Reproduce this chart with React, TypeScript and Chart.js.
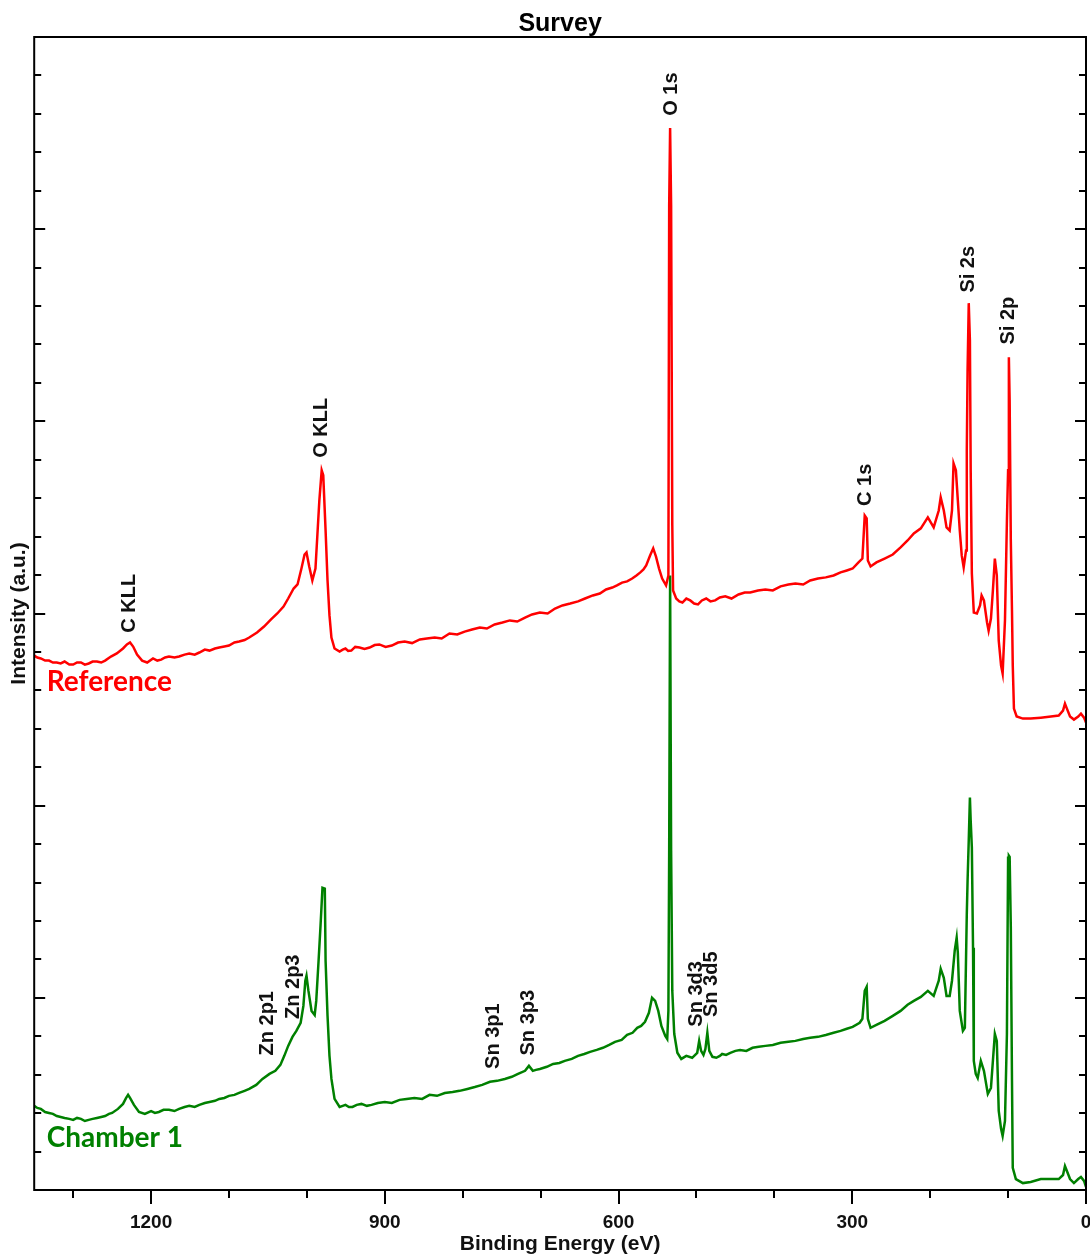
import React, { useEffect, useRef } from "react";
import { Chart, registerables } from "chart.js";
Chart.register(...registerables);

// Reference spectrum (red): [binding energy (eV), intensity (a.u.)]
const referenceSpectrum: [number, number][] = [
  [1350, 2.781], [1346, 2.771], [1341.5, 2.766], [1336, 2.755], [1331, 2.755], [1326, 2.745], [1321, 2.745], [1316, 2.74], [1311, 2.75], [1305, 2.734],
  [1300, 2.734], [1295, 2.745], [1290, 2.745], [1285, 2.734], [1280, 2.74], [1275, 2.75], [1269.5, 2.75], [1264, 2.745], [1259, 2.755], [1251.5, 2.776],
  [1244, 2.792], [1236, 2.818], [1231, 2.839], [1227, 2.849], [1223, 2.828], [1218, 2.786], [1211.5, 2.755], [1205, 2.745], [1197.5, 2.766], [1192, 2.755],
  [1187, 2.76], [1182, 2.771], [1177, 2.776], [1170, 2.771], [1164, 2.776], [1157, 2.786], [1151, 2.792], [1144, 2.786], [1138, 2.797], [1131, 2.812],
  [1125, 2.807], [1118, 2.818], [1112.5, 2.823], [1106, 2.828], [1100, 2.833], [1093, 2.849], [1087, 2.854], [1080, 2.862], [1074, 2.875], [1064, 2.901],
  [1055, 2.932], [1046, 2.969], [1038, 3.0], [1030, 3.036], [1024, 3.078], [1017, 3.13], [1012, 3.151], [1007, 3.234], [1003, 3.307], [1000.5, 3.318],
  [997, 3.245], [993, 3.172], [989, 3.234], [986.5, 3.411], [984, 3.589], [981, 3.745], [979, 3.719], [976, 3.432], [973.5, 3.172], [971, 2.99],
  [968.5, 2.875], [964.5, 2.818], [958, 2.802], [954, 2.812], [950.5, 2.818], [947, 2.805], [943, 2.807], [938, 2.826], [932.5, 2.823], [926, 2.815],
  [919.5, 2.823], [913, 2.836], [907, 2.839], [899, 2.826], [891, 2.833], [883, 2.849], [874.5, 2.854], [865, 2.846], [855, 2.865], [846, 2.87],
  [836, 2.875], [827, 2.87], [817, 2.896], [807, 2.891], [797.5, 2.906], [788, 2.917], [778, 2.927], [769, 2.922], [759, 2.943], [749, 2.953],
  [739.5, 2.964], [730, 2.958], [720, 2.979], [711, 2.995], [701, 3.005], [691, 3.0], [681.5, 3.026], [672, 3.042], [662, 3.052], [652, 3.063],
  [643, 3.078], [633, 3.094], [624, 3.104], [616, 3.125], [608, 3.135], [602, 3.146], [595.5, 3.161], [589, 3.167], [582.5, 3.182], [577, 3.198],
  [572, 3.214], [568, 3.229], [564.5, 3.25], [559.5, 3.302], [555.5, 3.339], [552, 3.297], [548, 3.234], [544, 3.182], [539, 3.146], [536, 3.198],
  [535, 5.125], [533.8, 5.526], [532.5, 5.125], [531, 3.458], [530, 3.12], [526, 3.078], [522, 3.063], [518, 3.057], [513, 3.078], [508, 3.068],
  [503, 3.052], [498, 3.047], [493, 3.068], [487.5, 3.078], [482, 3.063], [476, 3.068], [470, 3.083], [463, 3.089], [455, 3.078], [446, 3.099],
  [438, 3.109], [431, 3.109], [421, 3.12], [411.5, 3.125], [402, 3.12], [392, 3.141], [382, 3.151], [373, 3.156], [363, 3.151], [354, 3.172],
  [344, 3.182], [334, 3.188], [324, 3.198], [315, 3.214], [307, 3.224], [299.5, 3.234], [292, 3.266], [287, 3.286], [284, 3.51], [281.5, 3.495],
  [280, 3.276], [276.5, 3.245], [269, 3.266], [258.5, 3.286], [248, 3.307], [238, 3.344], [229, 3.38], [221, 3.417], [212, 3.443], [203, 3.5],
  [195.5, 3.448], [189, 3.536], [186.5, 3.604], [182.5, 3.536], [179, 3.448], [175, 3.432], [172, 3.536], [170, 3.781], [167, 3.745], [164.5, 3.589],
  [162, 3.432], [159.5, 3.302], [157, 3.24], [154, 3.328], [153, 3.849], [152, 4.266], [150.5, 4.615], [149, 4.422], [148, 3.745], [146.5, 3.208],
  [144, 3.005], [140, 3.0], [136, 3.042], [134, 3.094], [131, 3.068], [127, 2.953], [125, 2.911], [122, 2.974], [119.5, 3.12], [117, 3.286],
  [114.5, 3.198], [112, 2.859], [109, 2.729], [107, 2.688], [104, 2.964], [101.5, 3.484], [100, 3.745], [99, 4.333], [98, 4.109], [96.5, 3.38],
  [95, 3.016], [94, 2.729], [92.5, 2.505], [89, 2.464], [81, 2.453], [71, 2.453], [58, 2.458], [45, 2.464], [35, 2.469], [29.5, 2.495],
  [27, 2.531], [24.5, 2.505], [20.5, 2.464], [15.5, 2.448], [10, 2.464], [6.5, 2.479], [2.5, 2.458], [0, 2.432],
];

// Chamber 1 spectrum (green): [binding energy (eV), intensity (a.u.)]
const chamber1Spectrum: [number, number][] = [
  [1350, 0.438], [1346, 0.427], [1341.5, 0.422], [1336, 0.406], [1331, 0.401], [1326, 0.396], [1321, 0.385], [1316, 0.38], [1311, 0.375], [1305, 0.37],
  [1300, 0.365], [1295, 0.375], [1290, 0.37], [1285, 0.359], [1280, 0.365], [1275, 0.37], [1269.5, 0.375], [1264, 0.38], [1259, 0.385], [1254, 0.396],
  [1250, 0.401], [1242.5, 0.422], [1236, 0.448], [1232, 0.479], [1229.5, 0.495], [1227, 0.479], [1222, 0.443], [1215.5, 0.406], [1208, 0.396], [1200, 0.411],
  [1195, 0.401], [1190, 0.406], [1184, 0.417], [1177, 0.417], [1170, 0.411], [1164, 0.422], [1157, 0.432], [1151, 0.438], [1144, 0.432], [1138, 0.443],
  [1131, 0.453], [1125, 0.458], [1118, 0.464], [1112.5, 0.474], [1106, 0.479], [1100, 0.49], [1093, 0.495], [1087, 0.505], [1080, 0.516], [1074, 0.526],
  [1065, 0.547], [1057, 0.578], [1048, 0.604], [1040.5, 0.62], [1034, 0.651], [1029, 0.698], [1024, 0.75], [1018.5, 0.797], [1013.5, 0.828], [1008, 0.87],
  [1004.5, 0.958], [1002, 1.089], [1000.5, 1.115], [998, 1.036], [994, 0.932], [990, 0.911], [988, 0.984], [985, 1.193], [982.5, 1.375], [980, 1.573],
  [977, 1.568], [976, 1.193], [973.5, 0.906], [971, 0.698], [968.5, 0.578], [964.5, 0.474], [958, 0.432], [954, 0.438], [950.5, 0.443], [946, 0.432],
  [941.5, 0.432], [936, 0.443], [930, 0.448], [923, 0.438], [917, 0.443], [909, 0.453], [900, 0.458], [891, 0.453], [881, 0.469], [872, 0.474],
  [862, 0.479], [852, 0.474], [842.5, 0.495], [833, 0.49], [823, 0.505], [813, 0.51], [804, 0.516], [794, 0.526], [784.5, 0.536], [775, 0.547],
  [765, 0.563], [756, 0.568], [746, 0.578], [737, 0.589], [729, 0.604], [720, 0.62], [715, 0.646], [710, 0.62], [706, 0.625], [701, 0.63],
  [692, 0.641], [684, 0.656], [676, 0.661], [669, 0.672], [660, 0.682], [652, 0.698], [644, 0.708], [636.5, 0.719], [628, 0.729], [620, 0.74],
  [612, 0.755], [604.5, 0.771], [596, 0.781], [589, 0.807], [582, 0.818], [576, 0.844], [571, 0.854], [566, 0.875], [561, 0.922], [557, 1.0],
  [553, 0.984], [549, 0.932], [545, 0.854], [540, 0.802], [537.5, 0.786], [536, 0.932], [535, 1.766], [533.8, 3.198], [532.5, 1.766], [531, 1.036],
  [528.5, 0.813], [524.5, 0.714], [519.5, 0.682], [513, 0.698], [505.5, 0.688], [499, 0.714], [496.5, 0.776], [494, 0.724], [491, 0.703], [488.5, 0.734],
  [486, 0.818], [483.5, 0.724], [479.5, 0.693], [474.5, 0.688], [470, 0.698], [467, 0.708], [462, 0.703], [456.5, 0.714], [450, 0.724], [444, 0.729],
  [436, 0.724], [428, 0.74], [420, 0.745], [411.5, 0.75], [402, 0.755], [392, 0.766], [382, 0.771], [373, 0.776], [363, 0.786], [354, 0.792],
  [344, 0.797], [334, 0.807], [324, 0.818], [315, 0.828], [307, 0.839], [299.5, 0.849], [290.5, 0.87], [287, 0.891], [284, 1.036], [281.5, 1.057],
  [280, 0.891], [276.5, 0.844], [269, 0.859], [258.5, 0.88], [248, 0.906], [238, 0.932], [229, 0.964], [221, 0.984], [212, 1.005], [203, 1.036],
  [195.5, 1.01], [189, 1.089], [186.5, 1.151], [182.5, 1.104], [179, 1.01], [175, 1.01], [172, 1.089], [168.5, 1.245], [166, 1.313], [164.5, 1.234],
  [162, 0.932], [158, 0.828], [155.5, 0.844], [153, 1.438], [152, 1.609], [150.5, 1.818], [149, 2.042], [148, 1.922], [146.5, 1.781], [145, 1.26],
  [144, 0.672], [141.5, 0.604], [139, 0.583], [135, 0.672], [131, 0.62], [126, 0.5], [122, 0.531], [119.5, 0.672], [117, 0.813], [114.5, 0.776],
  [112, 0.411], [109, 0.318], [107, 0.281], [104, 0.359], [101.5, 0.813], [100, 1.729], [99, 1.74], [98, 1.734], [96.5, 1.365], [95, 0.568],
  [94, 0.115], [90, 0.057], [81, 0.036], [71, 0.042], [58, 0.057], [45, 0.057], [35, 0.057], [29.5, 0.078], [27, 0.125], [24.5, 0.099],
  [20.5, 0.057], [15.5, 0.036], [10, 0.057], [6.5, 0.068], [2.5, 0.047], [0, 0.016],
];

// Peak annotations (name, energy, intensity where the label starts)
const refPeakNames = ["C KLL", "O KLL", "O 1s", "C 1s", "Si 2s", "Si 2p"];
const refPeakEnergy = [1228, 981, 532.5, 283, 150.5, 99];
const refPeakLabelAt = [2.9, 3.81, 5.59, 3.56, 4.67, 4.4];
const ch1PeakNames = ["Zn 2p1", "Zn 2p3", "Sn 3p1", "Sn 3p3", "Sn 3d3", "Sn 3d5"];
const ch1PeakEnergy = [1051, 1017, 760, 715, 500, 481];
const ch1PeakLabelAt = [0.7, 0.89, 0.63, 0.7, 0.85, 0.9];

const seriesNames = ["Reference", "Chamber 1"];
const seriesColors = ["#ff0000", "#008000"];
const seriesNameEnergy = [1334, 1334];
const seriesNameIntensity = [2.646, 0.271];

const xLabelTicks = [0, 300, 600, 900, 1200];
const xAllTicks = [0, 100, 200, 300, 400, 500, 600, 700, 800, 900, 1000, 1100, 1200, 1300];
const yTickCount = 30; // minor divisions of 0.2 across 0..6

const FONT = "'Liberation Sans', Arial, sans-serif";

const framePlugin = {
  id: "frame",
  afterDatasetsDraw(chart: any) {
    const { ctx, chartArea: a, scales } = chart;
    const xs = scales.x;
    const ys = scales.y;
    ctx.save();
    ctx.strokeStyle = "#000";
    ctx.lineWidth = 2;
    ctx.strokeRect(a.left, a.top, a.right - a.left, a.bottom - a.top);
    ctx.beginPath();
    for (let i = 0; i <= yTickCount; i++) {
      const v = i * 0.2;
      const py = Math.round(ys.getPixelForValue(v));
      const len = i % 5 === 0 ? 11 : 7;
      ctx.moveTo(a.left, py);
      ctx.lineTo(a.left + len, py);
      ctx.moveTo(a.right, py);
      ctx.lineTo(a.right - len, py);
    }
    for (const e of xAllTicks) {
      const px = Math.round(xs.getPixelForValue(e));
      const len = e % 300 === 0 ? 14 : 8;
      ctx.moveTo(px, a.bottom);
      ctx.lineTo(px, a.bottom + len);
    }
    ctx.stroke();

    // peak labels
    ctx.fillStyle = "#111";
    ctx.font = `bold 20px ${FONT}`;
    ctx.textAlign = "left";
    ctx.textBaseline = "middle";
    const drawLabels = (names: string[], es: number[], vs: number[]) => {
      names.forEach((n, i) => {
        const px = xs.getPixelForValue(es[i]);
        const py = ys.getPixelForValue(vs[i]);
        ctx.save();
        ctx.translate(px, py);
        ctx.rotate(-Math.PI / 2);
        ctx.fillText(n, 0, 0);
        ctx.restore();
      });
    };
    drawLabels(refPeakNames, refPeakEnergy, refPeakLabelAt);
    drawLabels(ch1PeakNames, ch1PeakEnergy, ch1PeakLabelAt);

    // series names
    ctx.font = "bold 28px Lato, 'Open Sans', sans-serif";
    seriesNames.forEach((n, i) => {
      ctx.fillStyle = seriesColors[i];
      ctx.fillText(n, xs.getPixelForValue(seriesNameEnergy[i]), ys.getPixelForValue(seriesNameIntensity[i]));
    });
    ctx.restore();
  },
};

export default function App() {
  const canvasRef = useRef<HTMLCanvasElement>(null);
  useEffect(() => {
    document.body.style.margin = "0";
    const canvas = canvasRef.current!;
    const chart = new Chart(canvas, {
      type: "line",
      data: {
        datasets: [
          {
            label: seriesNames[0],
            data: referenceSpectrum.map(([e, v]) => ({ x: e, y: v })),
            borderColor: seriesColors[0],
            borderWidth: 2.5,
            pointRadius: 0,
            tension: 0,
          },
          {
            label: seriesNames[1],
            data: chamber1Spectrum.map(([e, v]) => ({ x: e, y: v })),
            borderColor: seriesColors[1],
            borderWidth: 2.5,
            pointRadius: 0,
            tension: 0,
          },
        ],
      },
      options: {
        responsive: false,
        animation: false,
        devicePixelRatio: 1,
        events: [],
        layout: { padding: { left: 6, right: 4, top: 0, bottom: 0 } },
        plugins: {
          legend: { display: false },
          tooltip: { enabled: false },
          title: {
            display: true,
            fullSize: false,
            text: "Survey",
            color: "#000",
            font: { family: FONT, size: 25, weight: "bold", lineHeight: 1 },
            padding: { top: 12, bottom: 0 },
          },
        },
        scales: {
          x: {
            type: "linear",
            min: 0,
            max: 1350,
            reverse: true,
            afterBuildTicks: (s: any) => {
              s.ticks = xLabelTicks.map((v) => ({ value: v }));
            },
            afterFit: (s: any) => {
              s.height = 65;
            },
            ticks: {
              autoSkip: false,
              maxRotation: 0,
              padding: 21,
              color: "#111",
              font: { family: FONT, size: 19, weight: "bold" },
              callback: (v: any) => String(v),
            },
            grid: { display: false, drawTicks: false },
            border: { display: false },
            title: {
              display: true,
              text: "Binding Energy (eV)",
              color: "#111",
              font: { family: FONT, size: 21, weight: "bold", lineHeight: 1 },
              padding: 0,
            },
          },
          y: {
            type: "linear",
            min: 0,
            max: 6,
            ticks: { display: false },
            grid: { display: false, drawTicks: false },
            border: { display: false },
            title: {
              display: true,
              text: "Intensity (a.u.)",
              color: "#111",
              font: { family: FONT, size: 21, weight: "bold", lineHeight: 1.2 },
              padding: { top: 1, bottom: 2 },
            },
          },
        },
      },
      plugins: [framePlugin],
    } as any);
    return () => chart.destroy();
  }, []);
  return (
    <div style={{ width: 1090, height: 1255 }}>
      <canvas ref={canvasRef} width={1090} height={1255} style={{ display: "block" }} />
    </div>
  );
}
